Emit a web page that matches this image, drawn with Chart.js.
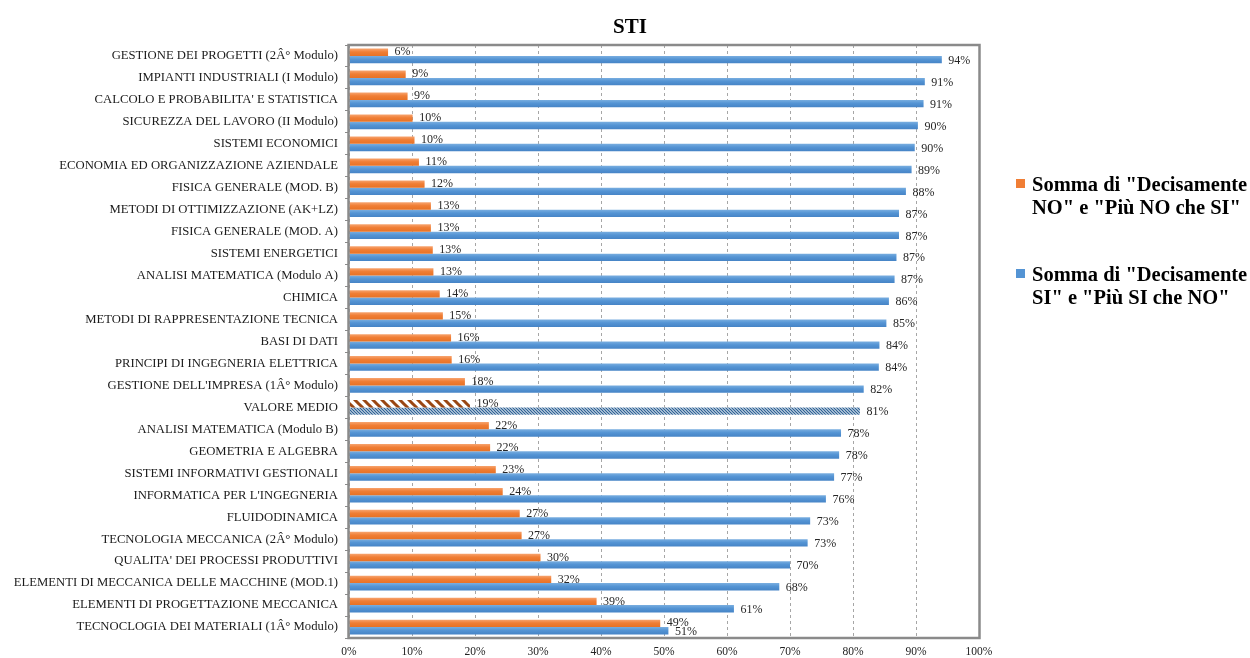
<!DOCTYPE html>
<html>
<head>
<meta charset="utf-8">
<script src="https://cdn.jsdelivr.net/npm/chart.js@4.4.1/dist/chart.umd.min.js"></script>
<style>
html,body{margin:0;padding:0;background:#fff;}
#wrap{width:1250px;height:658px;position:relative;}
</style>
</head>
<body>
<div id="wrap"><canvas id="c" width="1250" height="658"></canvas></div>
<script>
const chartTitle = 'STI';
const categories = [
  'GESTIONE DEI PROGETTI (2Â° Modulo)',
  'IMPIANTI INDUSTRIALI (I Modulo)',
  "CALCOLO E PROBABILITA' E STATISTICA",
  'SICUREZZA DEL LAVORO (II Modulo)',
  'SISTEMI ECONOMICI',
  'ECONOMIA ED ORGANIZZAZIONE AZIENDALE',
  'FISICA GENERALE (MOD. B)',
  'METODI DI OTTIMIZZAZIONE (AK+LZ)',
  'FISICA GENERALE (MOD. A)',
  'SISTEMI ENERGETICI',
  'ANALISI MATEMATICA (Modulo A)',
  'CHIMICA',
  'METODI DI RAPPRESENTAZIONE TECNICA',
  'BASI DI DATI',
  'PRINCIPI DI INGEGNERIA ELETTRICA',
  "GESTIONE DELL'IMPRESA (1Â° Modulo)",
  'VALORE MEDIO',
  'ANALISI MATEMATICA (Modulo B)',
  'GEOMETRIA E ALGEBRA',
  'SISTEMI INFORMATIVI GESTIONALI',
  "INFORMATICA PER L'INGEGNERIA",
  'FLUIDODINAMICA',
  'TECNOLOGIA MECCANICA (2Â° Modulo)',
  "QUALITA' DEI PROCESSI PRODUTTIVI",
  'ELEMENTI DI MECCANICA DELLE MACCHINE (MOD.1)',
  'ELEMENTI DI PROGETTAZIONE MECCANICA',
  'TECNOCLOGIA DEI MATERIALI (1Â° Modulo)'
];
const seriesNames = [
  ['Somma di "Decisamente', 'NO" e "Più NO che SI"'],
  ['Somma di "Decisamente', 'SI" e "Più SI che NO"']
];
const noValues = [6.2, 9.0, 9.3, 10.1, 10.4, 11.1, 12.0, 13.0, 13.0, 13.3, 13.4, 14.4, 14.9, 16.2, 16.3, 18.4, 19.2, 22.2, 22.4, 23.3, 24.4, 27.1, 27.4, 30.4, 32.1, 39.3, 49.4];
const siValues = [94.1, 91.4, 91.2, 90.3, 89.8, 89.3, 88.4, 87.3, 87.3, 86.9, 86.6, 85.7, 85.3, 84.2, 84.1, 81.7, 81.1, 78.1, 77.8, 77.0, 75.7, 73.2, 72.8, 70.0, 68.3, 61.1, 50.7];
const xTicks = [0, 10, 20, 30, 40, 50, 60, 70, 80, 90, 100];
const highlightCategory = 'VALORE MEDIO';

const ORANGE = '#F07E35';
const BLUE = '#5494D4';
const SERIF = '"Liberation Serif", "Times New Roman", serif';
const CAT_PCT = 0.67;

function makePattern(bg, fg, size, lw) {
  const p = document.createElement('canvas');
  p.width = size; p.height = size;
  const g = p.getContext('2d');
  g.fillStyle = bg; g.fillRect(0, 0, size, size);
  g.strokeStyle = fg; g.lineWidth = lw;
  g.beginPath();
  g.moveTo(0, 0); g.lineTo(size, size);
  g.moveTo(-size, 0); g.lineTo(size, size * 2);
  g.moveTo(0, -size); g.lineTo(size * 2, size);
  g.stroke();
  return document.getElementById('c').getContext('2d').createPattern(p, 'repeat');
}
const patOrange = makePattern('#ffffff', '#9A4612', 9, 3);
const patBlue = makePattern('#ffffff', '#2F6396', 3, 1.3);
const hi = categories.indexOf(highlightCategory);

const gradStops = [
  ['#F7A46F', '#F07E35', '#E87225'],
  ['#79AEE0', '#5494D4', '#4684C6']
];
function barFill(dsIndex) {
  return (c) => {
    if (c.type !== 'data') return dsIndex === 0 ? ORANGE : BLUE;
    if (c.dataIndex === hi) return dsIndex === 0 ? patOrange : patBlue;
    const ys = c.chart.scales.y;
    if (!ys || ys.top === undefined) return dsIndex === 0 ? ORANGE : BLUE;
    const center = ys.getPixelForValue(c.dataIndex);
    const band = (ys.bottom - ys.top) / categories.length;
    const h = band * CAT_PCT / 2;
    const top = dsIndex === 0 ? center - h : center;
    const g = c.chart.ctx.createLinearGradient(0, top, 0, top + h);
    const s = gradStops[dsIndex];
    g.addColorStop(0, s[0]); g.addColorStop(0.45, s[1]); g.addColorStop(1, s[2]);
    return g;
  };
}

const frameAndLabels = {
  id: 'frameAndLabels',
  afterDatasetsDraw(chart) {
    const ctx = chart.ctx;
    const a = chart.chartArea;
    ctx.save();
    ctx.strokeStyle = '#8A8A8A';
    ctx.lineWidth = 2.5;
    ctx.strokeRect(a.left - 0.5, a.top, a.right - a.left + 1, a.bottom - a.top);
    ctx.font = '12px ' + SERIF;
    ctx.fillStyle = '#262626';
    ctx.textBaseline = 'middle';
    ctx.textAlign = 'left';
    chart.data.datasets.forEach((ds, di) => {
      const meta = chart.getDatasetMeta(di);
      meta.data.forEach((bar, i) => {
        const v = ds.data[i];
        const y = bar.y + (di === 0 ? 0 : 1);
        ctx.fillText(Math.round(v) + '%', bar.x + 6.5, y);
      });
    });
    ctx.restore();
  },
  afterDraw(chart) {
    const ctx = chart.ctx;
    ctx.save();
    ctx.fillStyle = '#000';
    ctx.font = 'bold 21px ' + SERIF;
    ctx.textAlign = 'center';
    ctx.textBaseline = 'middle';
    ctx.fillText(chartTitle, 630, 28);
    const colors = [ORANGE, BLUE];
    const tops = [186, 276];
    ctx.font = 'bold 20.5px ' + SERIF;
    ctx.textAlign = 'left';
    seriesNames.forEach((lines, k) => {
      ctx.fillStyle = colors[k];
      ctx.fillRect(1016, tops[k] - 7, 9, 9);
      ctx.fillStyle = '#000';
      lines.forEach((t, j) => ctx.fillText(t, 1032, tops[k] + j * 23));
    });
    ctx.restore();
  }
};

new Chart(document.getElementById('c'), {
  type: 'bar',
  data: {
    labels: categories,
    datasets: [
      { label: seriesNames[0].join(' '), data: noValues, backgroundColor: barFill(0), borderWidth: 0, categoryPercentage: CAT_PCT, barPercentage: 1.0 },
      { label: seriesNames[1].join(' '), data: siValues, backgroundColor: barFill(1), borderWidth: 0, categoryPercentage: CAT_PCT, barPercentage: 1.0 }
    ]
  },
  options: {
    indexAxis: 'y',
    responsive: false,
    animation: false,
    devicePixelRatio: 1,
    layout: { padding: { top: 45, right: 271, bottom: 1, left: 0 } },
    plugins: {
      legend: { display: false },
      title: { display: false },
      tooltip: { enabled: false }
    },
    scales: {
      x: {
        min: 0, max: 100,
        afterBuildTicks(scale) { scale.ticks = xTicks.map(v => ({ value: v })); },
        afterFit(scale) { scale.height = 19; },
        ticks: {
          callback: v => v + '%',
          font: { family: SERIF, size: 11.5 },
          color: '#222',
          padding: 7,
          maxRotation: 0
        },
        grid: { color: '#A6A6A6', lineWidth: 1, drawTicks: false },
        border: { display: false, dash: [3, 3] }
      },
      y: {
        afterFit(scale) { scale.width = 349; },
        ticks: {
          font: { family: SERIF, size: 12.7 },
          color: '#1a1a1a',
          padding: 7,
          autoSkip: false
        },
        grid: { drawOnChartArea: false, offset: true, tickLength: 4, color: '#8A8A8A', lineWidth: 1 },
        border: { display: false }
      }
    }
  },
  plugins: [frameAndLabels]
});
</script>
</body>
</html>
